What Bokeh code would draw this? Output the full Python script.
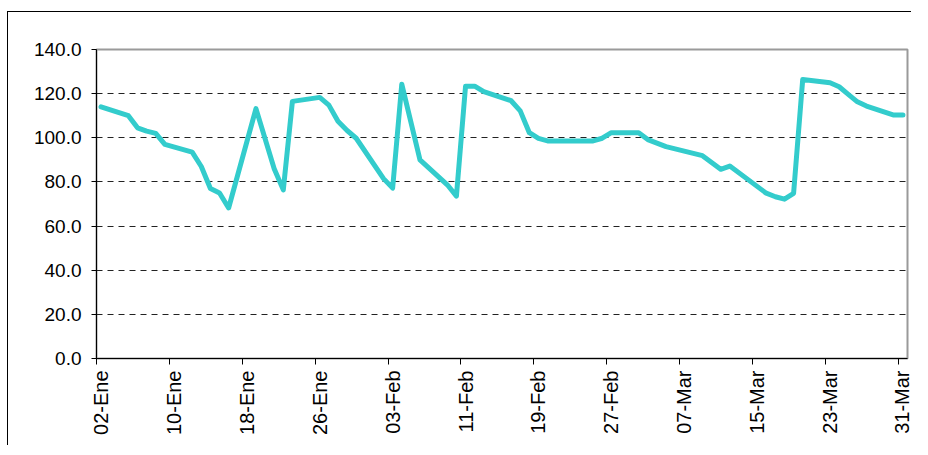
import math
import pandas as pd
from bokeh.plotting import figure
from bokeh.models import FixedTicker, NumeralTickFormatter, Range1d
from bokeh.embed import file_html
from bokeh.resources import INLINE

# ---- data ----
dates = [
    "2009-01-02", "2009-01-05", "2009-01-06", "2009-01-07", "2009-01-08", "2009-01-09",
    "2009-01-12", "2009-01-13", "2009-01-14", "2009-01-15", "2009-01-16",
    "2009-01-19", "2009-01-21", "2009-01-22", "2009-01-23",
    "2009-01-26", "2009-01-27", "2009-01-28", "2009-01-29", "2009-01-30",
    "2009-02-02", "2009-02-03", "2009-02-04", "2009-02-06",
    "2009-02-09", "2009-02-10", "2009-02-11", "2009-02-12", "2009-02-13",
    "2009-02-16", "2009-02-17", "2009-02-18", "2009-02-19", "2009-02-20",
    "2009-02-23", "2009-02-24", "2009-02-25", "2009-02-26", "2009-02-27",
    "2009-03-02", "2009-03-03", "2009-03-05",
    "2009-03-09", "2009-03-11", "2009-03-12",
    "2009-03-16", "2009-03-17", "2009-03-18", "2009-03-19", "2009-03-20",
    "2009-03-23", "2009-03-24", "2009-03-25", "2009-03-26", "2009-03-27",
    "2009-03-30", "2009-03-31",
]
values = [
    114.0, 110.0, 104.5, 103.0, 102.0, 97.0,
    93.5, 87.0, 77.0, 75.0, 68.2,
    113.2, 86.0, 76.4, 116.5,
    118.3, 114.8, 107.5, 103.3, 99.8,
    81.5, 77.2, 124.3, 90.0,
    78.7, 73.6, 123.4, 123.4, 120.9,
    116.8, 112.2, 102.3, 99.7, 98.6,
    98.6, 98.6, 98.6, 99.8, 102.3,
    102.3, 99.2, 96.0,
    91.9, 85.7, 87.2,
    74.9, 73.3, 72.2, 74.8, 126.4,
    124.9, 123.1, 119.7, 116.3, 114.4,
    110.3, 110.3,
]
tick_dates = ["2009-01-02", "2009-01-10", "2009-01-18", "2009-01-26", "2009-02-03",
              "2009-02-11", "2009-02-19", "2009-02-27", "2009-03-07", "2009-03-15",
              "2009-03-23", "2009-03-31"]
tick_labels = ["02-Ene", "10-Ene", "18-Ene", "26-Ene", "03-Feb", "11-Feb",
               "19-Feb", "27-Feb", "07-Mar", "15-Mar", "23-Mar", "31-Mar"]
axis_start = "2009-01-02"
axis_end = "2009-04-01"
y_ticks = [0, 20, 40, 60, 80, 100, 120, 140]

# ---- mapping dates to day slots (each day is one slot, point in its middle) ----
t0 = pd.Timestamp(axis_start)
def day(d):
    return (pd.Timestamp(d) - t0).days

xs = [day(d) + 0.5 for d in dates]
tick_pos = [day(d) for d in tick_dates]
label_pos = [day(d) + 0.5 for d in tick_dates]

FONT = "Liberation Sans"

p = figure(width=904, height=434, output_backend="svg", toolbar_location=None,
           x_range=Range1d(0, day(axis_end)), y_range=Range1d(0, 140),
           min_border_left=88, min_border_right=5, min_border_top=37, min_border_bottom=88)
p.background_fill_color = "white"
p.border_fill_color = "white"
p.outline_line_color = "#9a9a9a"
p.outline_line_width = 2
# outer chart-area border (only its top and left edges are visible), drawn as a shadow
p.styles = {"margin-top": "12px", "margin-left": "8px",
            "box-shadow": "-1px -1px 0px 0px #000000"}

# y axis
p.yaxis.ticker = FixedTicker(ticks=y_ticks)
p.yaxis.formatter = NumeralTickFormatter(format="0.0")
p.yaxis.major_label_text_font = FONT
p.yaxis.major_label_text_font_size = "19px"
p.yaxis.major_label_text_color = "black"
p.yaxis.major_tick_out = 5
p.yaxis.major_tick_in = 0
p.yaxis.minor_tick_line_color = None
p.yaxis.axis_line_color = "black"
p.yaxis.major_tick_line_color = "black"
p.yaxis.major_label_standoff = 10

# x axis: labels centred on day slots, tick marks at day boundaries (minor ticks)
xa = p.xaxis[0]
xa.ticker = FixedTicker(ticks=label_pos, minor_ticks=tick_pos)
xa.major_label_overrides = {lp: t for lp, t in zip(label_pos, tick_labels)}
xa.axis_line_color = "black"
xa.major_tick_line_color = None
xa.major_tick_out = 6
xa.major_tick_in = 0
xa.minor_tick_line_color = "black"
xa.minor_tick_out = 6
xa.minor_tick_in = 0
xa.major_label_orientation = math.pi / 2
xa.major_label_standoff = 6
xa.major_label_text_font = FONT
xa.major_label_text_font_size = "20px"
xa.major_label_text_color = "black"

# grid
p.xgrid.grid_line_color = None
p.ygrid.ticker = FixedTicker(ticks=y_ticks[1:-1])
p.ygrid.grid_line_color = "#222222"
p.ygrid.grid_line_dash = "6 5"
p.ygrid.grid_line_width = 1

p.line(xs, values, line_color="#33CCCC", line_width=5, line_join="round", line_cap="round")

open("out.html", "w").write(file_html(p, INLINE))
